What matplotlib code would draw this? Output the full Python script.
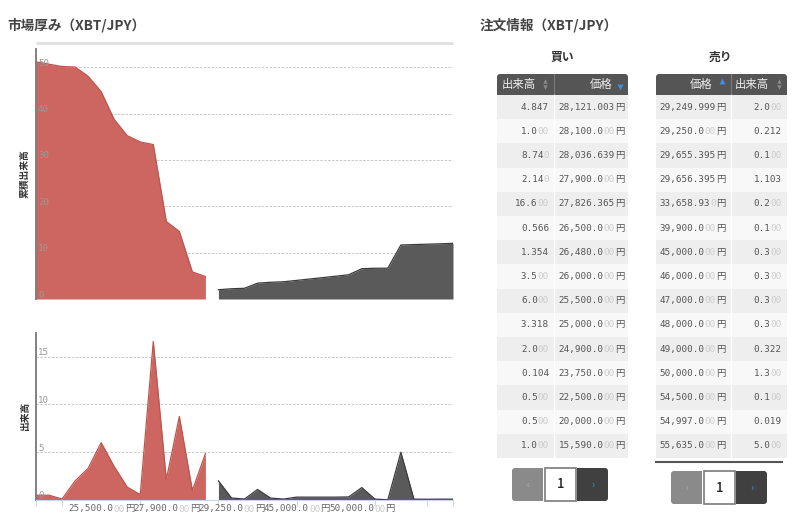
import numpy as np
import matplotlib
matplotlib.use('Agg')
import matplotlib.pyplot as plt
import matplotlib.transforms as mtransforms
from matplotlib.patches import Rectangle, FancyBboxPatch

plt.rcParams['font.family'] = ['Noto Sans CJK JP', 'DejaVu Sans']
MONO = ['DejaVu Sans Mono', 'Noto Sans CJK JP']
CJK = ['Noto Sans CJK JP']

# DATA (order book, first page of each table)
bid_prices = [28121.003, 28100.0, 28036.639, 27900.0, 27826.365, 26500.0, 26480.0,
              26000.0, 25500.0, 25000.0, 24900.0, 23750.0, 22500.0, 20000.0, 15590.0]
bid_vols = [4.847, 1.0, 8.74, 2.14, 16.6, 0.566, 1.354, 3.5, 6.0, 3.318, 2.0,
            0.104, 0.5, 0.5, 1.0]
ask_prices = [29249.999, 29250.0, 29655.395, 29656.395, 33658.93, 39900.0, 45000.0,
              46000.0, 47000.0, 48000.0, 49000.0, 50000.0, 54500.0, 54997.0, 55635.0]
ask_vols = [2.0, 0.212, 0.1, 1.103, 0.2, 0.1, 0.3, 0.3, 0.3, 0.3, 0.322, 1.3,
            0.1, 0.019, 5.0]
# asks beyond the first table page
ask_extra_vols = [0.09, 0.08, 0.09, 0.09]
N_BID_CHART = 14  # lowest bid is not on the chart

# chart series
chart_bid_prices = bid_prices[:N_BID_CHART][::-1]
chart_bid_vols = np.array(bid_vols[:N_BID_CHART][::-1])
chart_ask_vols = np.array(ask_vols + ask_extra_vols)
categories = chart_bid_prices + ask_prices + [None] * len(ask_extra_vols)
bid_cum = np.cumsum(chart_bid_vols[::-1])[::-1]
ask_cum = np.cumsum(chart_ask_vols)
xb = np.arange(len(chart_bid_vols))
xa = np.arange(len(chart_bid_vols), len(categories))

# COLOURS
RED, RED_EDGE = '#cd6660', '#bd554f'
DARK, DARK_EDGE = '#5a5a5a', '#3c3c3c'
TXT, TXT_LIGHT = '#555555', '#cccccc'

W, H = 800, 529
fig = plt.figure(figsize=(W / 100, H / 100), dpi=100)


def frect(l, t, r, b):
    return [l / W, 1 - b / H, (r - l) / W, (b - t) / H]


def split_num(s):
    head, dec = s.split('.')
    d = dec.rstrip('0') or dec[0]
    return head + '.' + d, dec[len(d):]


def multi_text(ax, x, y, parts, ha='left', size=6.7, transform=None):
    # coloured pieces chained one after another, aligned as one string
    full = ''.join(t for t, c in parts)
    base = ax.text(x, y, full, ha=ha, va='center', fontsize=size, family=MONO,
                   alpha=0, transform=transform if transform is not None else ax.transData)
    prev, xy = base, (0, 0)
    for t, c in parts:
        if not t:
            continue
        fam = CJK if t == '円' else MONO
        prev = ax.annotate(t, xy=xy, xycoords=prev, ha='left', va='bottom',
                           fontsize=size, family=fam, color=c)
        xy = (1, 0)


def price_parts(p, main=TXT):
    a, b = split_num(f'{p:,.3f}')
    return [(a, main), (b, TXT_LIGHT), ('円', main)]


def vol_parts(v):
    a, b = split_num(f'{v:.3f}')
    return [(a, TXT), (b, TXT_LIGHT)]


# overlay for page elements
ov = fig.add_axes([0, 0, 1, 1])
ov.set_xlim(0, W)
ov.set_ylim(H, 0)
ov.axis('off')

ov.text(7, 25, '市場厚み（XBT/JPY）', fontsize=9.8, fontweight='bold', color='#444', va='center')
ov.text(480, 25, '注文情報（XBT/JPY）', fontsize=9.8, fontweight='bold', color='#444', va='center')
ov.plot([36, 453], [43, 43], color='#e0e0e0', lw=2, solid_capstyle='butt')

# CHARTS
ax1 = fig.add_axes(frect(36, 49, 453, 299))
ax2 = fig.add_axes(frect(36, 333, 453, 500))
ax1.set_ylim(0, 53.95)
ax2.set_ylim(0, 17.48)

ax1.fill_between(xb, bid_cum, color=RED, lw=0, zorder=2)
ax1.plot(xb, bid_cum, color=RED_EDGE, lw=0.9, zorder=3)
ax1.fill_between(xa, ask_cum, color=DARK, lw=0, zorder=2)
ax1.plot(xa, ask_cum, color=DARK_EDGE, lw=0.9, zorder=3)

ax2.fill_between(xb, chart_bid_vols, color=RED, lw=0, zorder=2)
ax2.plot(xb, chart_bid_vols, color=RED_EDGE, lw=0.9, zorder=3)
ax2.fill_between(xa, chart_ask_vols, color=DARK, lw=0, zorder=2)
ax2.plot(xa, chart_ask_vols, color=DARK_EDGE, lw=0.9, zorder=3)

off = mtransforms.ScaledTranslation(0.02, 0.015, fig.dpi_scale_trans)
for ax, yt, lab, ly in ((ax1, range(0, 51, 10), '累積出来高', 0.5),
                        (ax2, range(0, 16, 5), '出来高', 0.5)):
    ax.set_xlim(0, len(categories) - 1)
    for s in ('top', 'right'):
        ax.spines[s].set_visible(False)
    ax.spines['left'].set_color('#777777')
    ax.spines['left'].set_linewidth(1.3)
    ax.set_yticks(list(yt))
    ax.tick_params(axis='y', left=False, labelleft=False)
    ax.grid(axis='y', color='#c8c8c8', ls=(0, (2.5, 1.5)), lw=0.7)
    ax.set_axisbelow(True)
    for v in yt:
        ax.text(0, v, str(v), transform=ax.get_yaxis_transform() + off,
                ha='left', va='baseline', fontsize=6.6, family=MONO,
                color='#999999', zorder=5)
    ax.text(-0.027, ly, lab, transform=ax.transAxes, rotation=90, ha='center',
            va='center', fontsize=7, fontweight='bold', color='#333')

ax1.spines['bottom'].set_visible(False)
ax1.tick_params(axis='x', bottom=False, labelbottom=False)

ax2.spines['bottom'].set_color('#ccd6eb')
ax2.set_xticks([0, 2, 8, 14, 20, 26, 30, 32])
ax2.tick_params(axis='x', length=4, color='#ccd6eb', labelbottom=False)
xtr = mtransforms.blended_transform_factory(ax2.transData, ax2.transAxes)
for i in range(5, len(categories), 5):
    if categories[i] is not None:
        multi_text(ax2, i, -9 / 167, price_parts(categories[i], '#666666'),
                   ha='center', transform=xtr)

# TABLES
HEAD_T, ROW0, ROWH = 74, 95, 24.2


def header(l, r, m):
    ov.add_patch(FancyBboxPatch((l, HEAD_T), r - l, ROW0 - HEAD_T,
                                boxstyle='round,pad=0,rounding_size=3', fc='#555555', ec='none'))
    ov.add_patch(Rectangle((l, HEAD_T + 6), r - l, ROW0 - HEAD_T - 6, fc='#555555', ec='none'))
    ov.plot([m, m], [HEAD_T, ROW0], color='#7a7a7a', lw=0.8)


def sort_icon(x):
    ov.plot([x], [80.5], marker='^', ms=3.2, color='#8a8a8a', mec='none')
    ov.plot([x], [86.5], marker='v', ms=3.2, color='#8a8a8a', mec='none')


def rows(l, r, m, n):
    for i in range(n):
        ov.add_patch(Rectangle((l, ROW0 + i * ROWH), r - l, ROWH,
                               fc='#eeeeee' if i % 2 == 0 else '#f8f8f8', ec='none'))
    ov.plot([m, m], [ROW0, ROW0 + n * ROWH], color='white', lw=1)


def pager(x0, y0):
    h, w = 33, 31
    ov.add_patch(FancyBboxPatch((x0, y0), w, h, boxstyle='round,pad=0,rounding_size=3',
                                fc='#8a8a8a', ec='none'))
    ov.add_patch(Rectangle((x0 + 6, y0), w - 6, h, fc='#8a8a8a', ec='none'))
    ov.add_patch(Rectangle((x0 + 33, y0), w, h, fc='white', ec='#7a7a7a', lw=1.2))
    ov.add_patch(FancyBboxPatch((x0 + 65, y0), w, h, boxstyle='round,pad=0,rounding_size=3',
                                fc='#404040', ec='none'))
    ov.add_patch(Rectangle((x0 + 65, y0), w - 6, h, fc='#404040', ec='none'))
    ov.text(x0 + w / 2, y0 + h / 2, '‹', ha='center', va='center', fontsize=7, color='#b0b0b0')
    ov.text(x0 + 33 + w / 2, y0 + h / 2, '1', ha='center', va='center', fontsize=9.5,
            fontweight='medium', color='#222')
    ov.text(x0 + 65 + w / 2, y0 + h / 2, '›', ha='center', va='center', fontsize=7, color='#22aabb')


# buy table
ov.text(562, 57, '買い', ha='center', va='center', fontsize=8.5, fontweight='bold', color='#333')
header(497, 628, 554)
ov.text(502, 84.5, '出来高', ha='left', va='center', fontsize=8.2, color='#eeeeee')
sort_icon(545)
ov.text(613, 84.5, '価格', ha='right', va='center', fontsize=8.2, color='#eeeeee')
ov.plot([620], [87], marker='v', ms=4, color='#3a8ee6', mec='none')
rows(497, 628, 554, len(bid_prices))
for i, (p, v) in enumerate(zip(bid_prices, bid_vols)):
    yc = ROW0 + (i + 0.5) * ROWH
    multi_text(ov, 549, yc, vol_parts(v), ha='right')
    multi_text(ov, 624, yc, price_parts(p), ha='right')
pager(512, 468)

# sell table
ov.text(720, 57, '売り', ha='center', va='center', fontsize=8.5, fontweight='bold', color='#333')
header(656, 787, 731)
ov.text(713, 84.5, '価格', ha='right', va='center', fontsize=8.2, color='#eeeeee')
ov.plot([722], [81], marker='^', ms=4, color='#3a8ee6', mec='none')
ov.text(735, 84.5, '出来高', ha='left', va='center', fontsize=8.2, color='#eeeeee')
sort_icon(779)
rows(656, 787, 731, len(ask_prices))
for i, (p, v) in enumerate(zip(ask_prices, ask_vols)):
    yc = ROW0 + (i + 0.5) * ROWH
    multi_text(ov, 725, yc, price_parts(p), ha='right')
    multi_text(ov, 782, yc, vol_parts(v), ha='right')
ov.plot([656, 782], [462, 462], color='#555555', lw=1.5)
pager(671, 471)

fig.savefig('out.png', dpi=100)
